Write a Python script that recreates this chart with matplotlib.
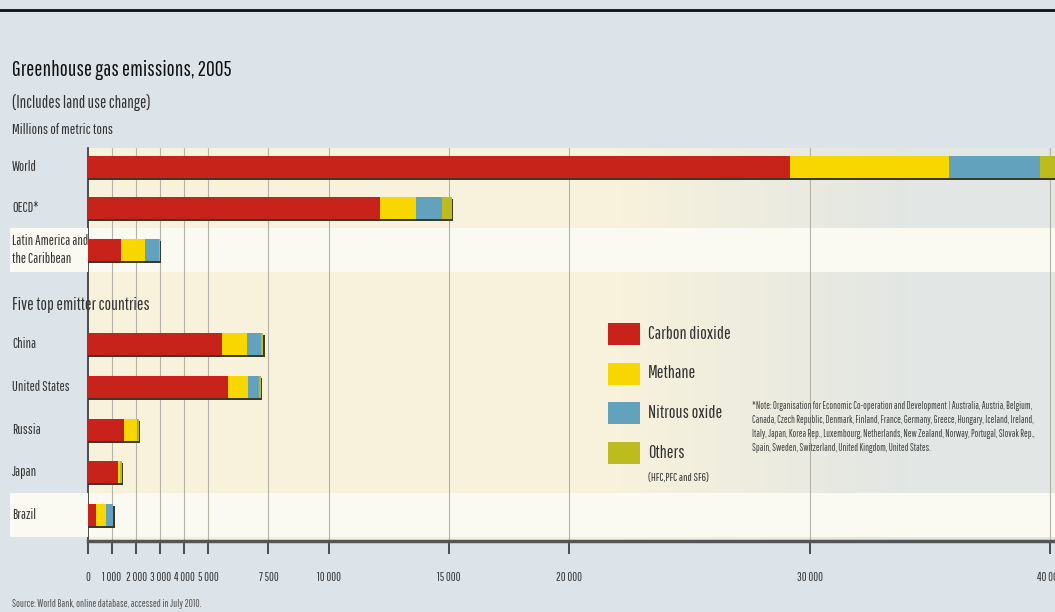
import matplotlib
matplotlib.use("Agg")
import matplotlib.pyplot as plt
import numpy as np

plt.rcParams['font.family'] = ['Pathway Gothic One', 'Roboto Condensed', 'DejaVu Sans']

# ── data (millions of metric tons) ───────────────────────────────────────────
regions   = ['World', 'OECD*', 'Latin America and\nthe Caribbean',
             'China', 'United States', 'Russia', 'Japan', 'Brazil']
co2       = [29190, 12140, 1370, 5570, 5820, 1500, 1250, 330]
methane   = [6610,  1500,  1000, 1040, 830,  540,  60,   420]
n2o       = [3780,  1080,  580,  580,  460,  30,   40,   290]
others    = [650,   410,   40,   90,   80,   50,   60,   20]
gases     = ['Carbon dioxide', 'Methane', 'Nitrous oxide', 'Others']
colors    = ['#c8231b', '#f8d600', '#62a2bd', '#bcbc1e']
ticks     = [0, 1000, 2000, 3000, 4000, 5000, 7500, 10000, 15000, 20000, 30000, 40000]

# row centres (px from top of figure) – layout only
row_y     = [167, 208, 250, 344, 387, 430, 472, 515]
BAR_H     = 22

W, H = 1055, 612
BG     = '#dde4e9'
CREAM  = '#f8f2dc'
LIGHT  = '#fbfaf2'
TXT    = '#333333'

fig = plt.figure(figsize=(W / 100, H / 100), dpi=100, facecolor=BG)

# top rule
fig.add_artist(plt.Line2D([0, 1], [1 - 10 / H, 1 - 10 / H], color='#111111', lw=2))

x0, y_top, y_bot = 88, 148, 541
ax = fig.add_axes([x0 / W, 1 - y_bot / H, (W - x0) / W, (y_bot - y_top) / H])
ax.set_xlim(0, 40200)
ax.set_ylim(y_bot, y_top)
ax.set_facecolor(CREAM)

# background gradient: cream on the left, grey-blue towards the right
grad = np.linspace(0, 1, 256)
c1 = np.array(matplotlib.colors.to_rgb(CREAM))
c2 = np.array(matplotlib.colors.to_rgb('#e2e6e4'))
t = np.clip((grad - 0.55) / 0.3, 0, 1)[None, :, None]
img = c1 * (1 - t) + c2 * t
ax.imshow(img, extent=[0, 40200, y_bot, y_top], aspect='auto', zorder=0)

# lighter rows (Latin America, Brazil) across the label column and the plot
for yc in (row_y[2], row_y[7]):
    fig.patches.append(plt.Rectangle((10 / W, 1 - (yc + 22) / H), (x0 - 10) / W, 44 / H,
                                     transform=fig.transFigure, color=LIGHT, lw=0))
    ax.axhspan(yc - 22, yc + 22, color=LIGHT, zorder=0.5, lw=0)

# grid
for tk in ticks[1:]:
    ax.axvline(tk, color='#b5b2a6', lw=0.8, zorder=1)

# stacked bars with a small drop shadow
totals = np.array(co2) + np.array(methane) + np.array(n2o) + np.array(others)
ax.barh(np.array(row_y) + 2, totals + 60, height=BAR_H, color='#3b3a2a',
        zorder=2, lw=0)
left = np.zeros(len(regions))
for vals, col in zip([co2, methane, n2o, others], colors):
    ax.barh(row_y, vals, left=left, height=BAR_H, color=col, zorder=3, lw=0)
    left += np.array(vals)

# axes styling
for s in ('top', 'right'):
    ax.spines[s].set_visible(False)
ax.spines['left'].set_color('#333333')
ax.spines['left'].set_linewidth(1.2)
ax.spines['bottom'].set_color('#555555')
ax.spines['bottom'].set_linewidth(2.5)
ax.set_yticks([])
ax.set_xticks(ticks)
ax.set_xticklabels([f'{v:,}'.replace(',', ' ') for v in ticks], fontsize=8.5, color=TXT)
ax.tick_params(axis='x', direction='out', length=9, width=1.2, color='#333333', pad=13)

# row labels
for lab, yc in zip(regions, row_y):
    fig.text(12 / W, 1 - yc / H, lab, fontsize=10, color=TXT, va='center',
             ha='left', linespacing=1.35)
fig.text(12 / W, 1 - 305 / H, 'Five top emitter countries', fontsize=12.5,
         color=TXT, va='center', ha='left', zorder=5)

# titles
fig.text(12 / W, 1 - 70 / H, 'Greenhouse gas emissions, 2005', fontsize=15.5,
         color='#111111', va='center', ha='left', weight='bold')
fig.text(12 / W, 1 - 103 / H, '(Includes land use change)', fontsize=12,
         color=TXT, va='center', ha='left')
fig.text(12 / W, 1 - 130 / H, 'Millions of metric tons', fontsize=10.5,
         color=TXT, va='center', ha='left')

# legend
for i, (g, col) in enumerate(zip(gases, colors)):
    yc = 334 + i * 39.5
    fig.patches.append(plt.Rectangle((608 / W, 1 - (yc + 11) / H), 32 / W, 22 / H,
                                     transform=fig.transFigure, color=col, lw=0,
                                     zorder=6))
    fig.text(648 / W, 1 - yc / H, g, fontsize=13, color=TXT, va='center',
             ha='left', zorder=6)
fig.text(648 / W, 1 - 479 / H, '(HFC,PFC and SF6)', fontsize=8, color=TXT,
         va='center', ha='left', zorder=6)

note = ('*Note: Organisation for Economic Co-operation and Development | Australia, Austria, Belgium,\n'
        'Canada, Czech Republic, Denmark, Finland, France, Germany, Greece, Hungary, Iceland, Ireland,\n'
        'Italy, Japan, Korea Rep., Luxembourg, Netherlands, New Zealand, Norway, Portugal, Slovak Rep.,\n'
        'Spain, Sweden, Switzerland, United Kingdom, United States.')
fig.text(752 / W, 1 - 427 / H, note, fontsize=7, color='#444444', va='center',
         ha='left', linespacing=1.5, zorder=6)

fig.text(12 / W, 1 - 604 / H, 'Source: World Bank, online database, accessed in July 2010.',
         fontsize=7.5, color='#555555', va='center', ha='left')

fig.savefig('out.png', dpi=100, facecolor=BG)
